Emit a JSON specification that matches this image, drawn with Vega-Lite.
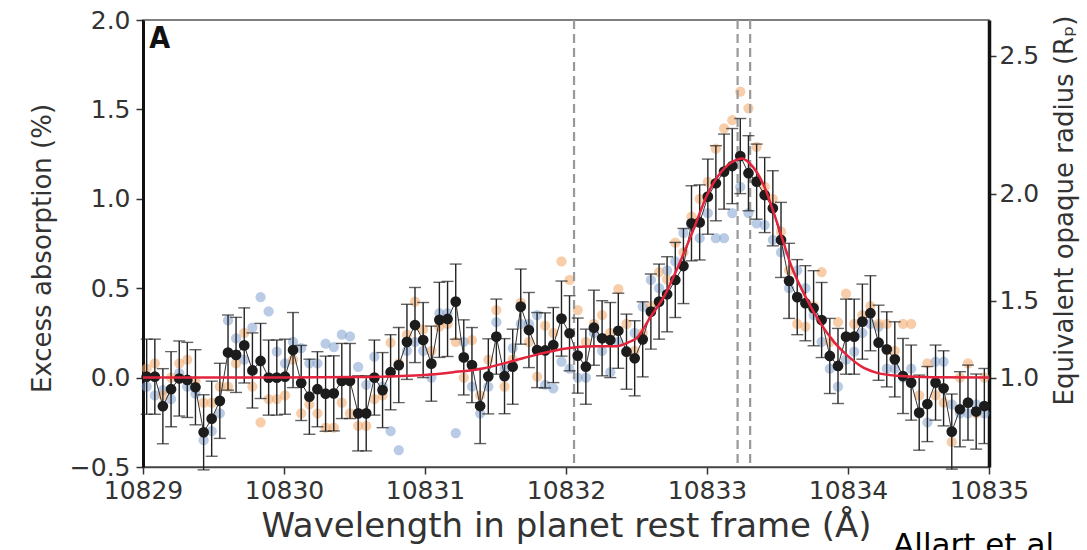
{
  "$schema": "https://vega.github.io/schema/vega-lite/v6.json",
  "autosize": "none",
  "width": 846,
  "height": 447,
  "padding": {"left": 143, "top": 20, "right": 98, "bottom": 83},
  "background": "white",
  "config": {
    "view": {"stroke": "#555", "strokeWidth": 1.5},
    "font": "DejaVu Sans",
    "axis": {"grid": false, "labelFont": "DejaVu Sans", "titleFont": "DejaVu Sans", "labelColor": "#333", "titleColor": "#333", "titleFontWeight": "normal"}
  },
  "datasets": {
    "pts": [
      {"w":10829.026,"v":0.005,"lo":-0.205,"hi":0.215,"o":0.05,"b":-0.05},
      {"w":10829.084,"v":0.005,"lo":-0.205,"hi":0.215,"o":0.08,"b":-0.1},
      {"w":10829.141,"v":-0.16,"lo":-0.37,"hi":0.05,"o":-0.1,"b":-0.07},
      {"w":10829.199,"v":-0.065,"lo":-0.275,"hi":0.145,"o":0.0,"b":-0.12},
      {"w":10829.257,"v":-0.005,"lo":-0.215,"hi":0.205,"o":0.08,"b":0.025},
      {"w":10829.314,"v":-0.013,"lo":-0.223,"hi":0.197,"o":0.1,"b":-0.05},
      {"w":10829.372,"v":-0.054,"lo":-0.264,"hi":0.156,"o":-0.02,"b":-0.09},
      {"w":10829.430,"v":-0.306,"lo":-0.516,"hi":-0.096,"o":-0.14,"b":-0.35},
      {"w":10829.487,"v":-0.23,"lo":-0.44,"hi":-0.02,"o":-0.14,"b":-0.3},
      {"w":10829.545,"v":-0.13,"lo":-0.34,"hi":0.08,"o":-0.05,"b":-0.2},
      {"w":10829.603,"v":0.14,"lo":-0.07,"hi":0.35,"o":-0.05,"b":0.32},
      {"w":10829.660,"v":0.127,"lo":-0.083,"hi":0.337,"o":0.08,"b":0.22},
      {"w":10829.718,"v":0.18,"lo":-0.03,"hi":0.39,"o":0.25,"b":0.1},
      {"w":10829.776,"v":0.04,"lo":-0.17,"hi":0.25,"o":-0.05,"b":0.28},
      {"w":10829.834,"v":0.093,"lo":-0.117,"hi":0.303,"o":-0.25,"b":0.45},
      {"w":10829.891,"v":0.0,"lo":-0.21,"hi":0.21,"o":-0.12,"b":0.37},
      {"w":10829.949,"v":0.0,"lo":-0.21,"hi":0.21,"o":-0.12,"b":0.145},
      {"w":10830.007,"v":0.005,"lo":-0.205,"hi":0.215,"o":-0.1,"b":0.08},
      {"w":10830.064,"v":0.154,"lo":-0.056,"hi":0.364,"o":0.1,"b":0.2},
      {"w":10830.122,"v":-0.03,"lo":-0.24,"hi":0.18,"o":-0.2,"b":0.165},
      {"w":10830.180,"v":-0.107,"lo":-0.317,"hi":0.103,"o":-0.15,"b":0.08},
      {"w":10830.237,"v":-0.065,"lo":-0.275,"hi":0.145,"o":-0.2,"b":0.08},
      {"w":10830.295,"v":-0.09,"lo":-0.3,"hi":0.12,"o":-0.28,"b":0.19},
      {"w":10830.353,"v":-0.088,"lo":-0.298,"hi":0.122,"o":-0.28,"b":0.17},
      {"w":10830.410,"v":-0.019,"lo":-0.229,"hi":0.191,"o":-0.14,"b":0.24},
      {"w":10830.468,"v":-0.019,"lo":-0.229,"hi":0.191,"o":-0.2,"b":0.23},
      {"w":10830.526,"v":-0.2,"lo":-0.41,"hi":0.01,"o":-0.27,"b":0.06},
      {"w":10830.583,"v":-0.2,"lo":-0.41,"hi":0.01,"o":-0.27,"b":-0.04},
      {"w":10830.641,"v":0.0,"lo":-0.21,"hi":0.21,"o":-0.12,"b":0.117},
      {"w":10830.699,"v":-0.07,"lo":-0.28,"hi":0.14,"o":-0.1,"b":-0.05},
      {"w":10830.756,"v":0.03,"lo":-0.18,"hi":0.24,"o":0.195,"b":-0.3},
      {"w":10830.814,"v":0.07,"lo":-0.14,"hi":0.28,"o":0.08,"b":-0.405},
      {"w":10830.872,"v":0.2,"lo":-0.01,"hi":0.41,"o":0.24,"b":0.15},
      {"w":10830.929,"v":0.294,"lo":0.084,"hi":0.504,"o":0.425,"b":0.2},
      {"w":10830.987,"v":0.21,"lo":0.0,"hi":0.42,"o":0.27,"b":0.15},
      {"w":10831.045,"v":0.078,"lo":-0.132,"hi":0.288,"o":0.15,"b":0.0},
      {"w":10831.102,"v":0.323,"lo":0.113,"hi":0.533,"o":0.285,"b":0.36},
      {"w":10831.160,"v":0.328,"lo":0.118,"hi":0.538,"o":0.3,"b":0.36},
      {"w":10831.218,"v":0.425,"lo":0.215,"hi":0.635,"o":0.2,"b":-0.31},
      {"w":10831.275,"v":0.113,"lo":-0.097,"hi":0.323,"o":0.0,"b":0.2},
      {"w":10831.333,"v":0.07,"lo":-0.14,"hi":0.28,"o":0.21,"b":-0.05},
      {"w":10831.391,"v":-0.159,"lo":-0.369,"hi":0.051,"o":-0.1,"b":-0.2},
      {"w":10831.449,"v":0.007,"lo":-0.203,"hi":0.217,"o":0.1,"b":-0.05},
      {"w":10831.506,"v":0.229,"lo":0.019,"hi":0.439,"o":0.378,"b":0.31},
      {"w":10831.564,"v":0.008,"lo":-0.202,"hi":0.218,"o":-0.05,"b":0.05},
      {"w":10831.622,"v":0.061,"lo":-0.149,"hi":0.271,"o":0.1,"b":0.165},
      {"w":10831.679,"v":0.397,"lo":0.187,"hi":0.607,"o":0.42,"b":0.3},
      {"w":10831.737,"v":0.266,"lo":0.056,"hi":0.476,"o":0.2,"b":0.3},
      {"w":10831.795,"v":0.154,"lo":-0.056,"hi":0.364,"o":0.005,"b":0.35},
      {"w":10831.852,"v":0.152,"lo":-0.058,"hi":0.362,"o":0.29,"b":-0.04},
      {"w":10831.910,"v":0.182,"lo":-0.028,"hi":0.392,"o":0.25,"b":-0.06},
      {"w":10831.968,"v":0.33,"lo":0.12,"hi":0.54,"o":0.65,"b":0.09},
      {"w":10832.025,"v":0.248,"lo":0.038,"hi":0.458,"o":0.546,"b":0.05},
      {"w":10832.083,"v":0.123,"lo":-0.087,"hi":0.333,"o":0.378,"b":0.0},
      {"w":10832.141,"v":0.061,"lo":-0.149,"hi":0.271,"o":0.2,"b":0.0},
      {"w":10832.198,"v":0.279,"lo":0.069,"hi":0.489,"o":0.3,"b":0.25},
      {"w":10832.256,"v":0.22,"lo":0.01,"hi":0.43,"o":0.35,"b":0.15},
      {"w":10832.314,"v":0.21,"lo":0.0,"hi":0.42,"o":0.25,"b":0.03},
      {"w":10832.371,"v":0.262,"lo":0.052,"hi":0.472,"o":0.495,"b":0.2},
      {"w":10832.429,"v":0.145,"lo":-0.065,"hi":0.355,"o":0.3,"b":0.15},
      {"w":10832.487,"v":0.108,"lo":-0.102,"hi":0.318,"o":0.15,"b":0.25},
      {"w":10832.544,"v":0.214,"lo":0.004,"hi":0.424,"o":0.25,"b":0.397},
      {"w":10832.602,"v":0.369,"lo":0.159,"hi":0.579,"o":0.4,"b":0.546},
      {"w":10832.660,"v":0.425,"lo":0.215,"hi":0.635,"o":0.59,"b":0.5},
      {"w":10832.717,"v":0.466,"lo":0.256,"hi":0.676,"o":0.55,"b":0.6},
      {"w":10832.775,"v":0.546,"lo":0.336,"hi":0.756,"o":0.755,"b":0.65},
      {"w":10832.833,"v":0.624,"lo":0.414,"hi":0.834,"o":0.7,"b":0.81},
      {"w":10832.890,"v":0.863,"lo":0.653,"hi":1.073,"o":0.9,"b":0.85},
      {"w":10832.948,"v":0.868,"lo":0.658,"hi":1.078,"o":1.0,"b":0.78},
      {"w":10833.006,"v":1.012,"lo":0.802,"hi":1.222,"o":1.095,"b":0.92},
      {"w":10833.063,"v":1.087,"lo":0.877,"hi":1.297,"o":1.28,"b":0.78},
      {"w":10833.121,"v":1.152,"lo":0.942,"hi":1.362,"o":1.394,"b":0.78},
      {"w":10833.179,"v":1.183,"lo":0.973,"hi":1.393,"o":1.44,"b":0.92},
      {"w":10833.236,"v":1.239,"lo":1.029,"hi":1.449,"o":1.6,"b":1.067},
      {"w":10833.294,"v":1.143,"lo":0.933,"hi":1.353,"o":1.506,"b":0.92},
      {"w":10833.352,"v":1.096,"lo":0.886,"hi":1.306,"o":1.29,"b":0.863},
      {"w":10833.409,"v":1.021,"lo":0.811,"hi":1.231,"o":1.067,"b":0.853},
      {"w":10833.467,"v":0.947,"lo":0.737,"hi":1.157,"o":1.0,"b":0.77},
      {"w":10833.525,"v":0.77,"lo":0.56,"hi":0.98,"o":0.816,"b":0.7},
      {"w":10833.582,"v":0.541,"lo":0.331,"hi":0.751,"o":0.6,"b":0.5},
      {"w":10833.640,"v":0.45,"lo":0.24,"hi":0.66,"o":0.3,"b":0.6},
      {"w":10833.698,"v":0.416,"lo":0.206,"hi":0.626,"o":0.285,"b":0.5},
      {"w":10833.756,"v":0.388,"lo":0.178,"hi":0.598,"o":0.4,"b":0.35},
      {"w":10833.813,"v":0.322,"lo":0.112,"hi":0.532,"o":0.59,"b":0.2},
      {"w":10833.871,"v":0.121,"lo":-0.089,"hi":0.331,"o":0.2,"b":0.05},
      {"w":10833.929,"v":0.065,"lo":-0.145,"hi":0.275,"o":0.31,"b":-0.05},
      {"w":10833.986,"v":0.229,"lo":0.019,"hi":0.439,"o":0.47,"b":0.1},
      {"w":10834.044,"v":0.229,"lo":0.019,"hi":0.439,"o":0.3,"b":0.145},
      {"w":10834.102,"v":0.313,"lo":0.103,"hi":0.523,"o":0.35,"b":0.25},
      {"w":10834.159,"v":0.36,"lo":0.15,"hi":0.57,"o":0.4,"b":0.3},
      {"w":10834.217,"v":0.195,"lo":-0.015,"hi":0.405,"o":0.3,"b":0.285},
      {"w":10834.275,"v":0.158,"lo":-0.052,"hi":0.368,"o":0.3,"b":0.05},
      {"w":10834.332,"v":0.102,"lo":-0.108,"hi":0.312,"o":0.15,"b":0.05},
      {"w":10834.390,"v":0.009,"lo":-0.201,"hi":0.219,"o":0.3,"b":0.0},
      {"w":10834.448,"v":-0.028,"lo":-0.238,"hi":0.182,"o":0.3,"b":0.05},
      {"w":10834.505,"v":-0.196,"lo":-0.406,"hi":0.014,"o":-0.1,"b":-0.2},
      {"w":10834.563,"v":-0.148,"lo":-0.358,"hi":0.062,"o":0.08,"b":-0.25},
      {"w":10834.621,"v":-0.028,"lo":-0.238,"hi":0.182,"o":-0.1,"b":0.09},
      {"w":10834.678,"v":-0.06,"lo":-0.27,"hi":0.15,"o":-0.14,"b":0.09},
      {"w":10834.736,"v":-0.302,"lo":-0.512,"hi":-0.092,"o":-0.36,"b":-0.15},
      {"w":10834.794,"v":-0.177,"lo":-0.387,"hi":0.033,"o":0.0,"b":-0.2},
      {"w":10834.851,"v":-0.14,"lo":-0.35,"hi":0.07,"o":0.08,"b":-0.2},
      {"w":10834.909,"v":-0.19,"lo":-0.4,"hi":0.02,"o":-0.2,"b":-0.15},
      {"w":10834.967,"v":-0.159,"lo":-0.369,"hi":0.051,"o":0.0,"b":-0.2}
    ],
    "model": [
      {"w":10829.0,"m":0},{"w":10829.5,"m":0},{"w":10830.0,"m":0},{"w":10830.5,"m":0.003},
      {"w":10830.8,"m":0.008},{"w":10831.0,"m":0.015},{"w":10831.2,"m":0.03},{"w":10831.4,"m":0.05},
      {"w":10831.6,"m":0.088},{"w":10831.8,"m":0.13},{"w":10832.0,"m":0.163},{"w":10832.2,"m":0.175},
      {"w":10832.35,"m":0.175},{"w":10832.45,"m":0.2},{"w":10832.5,"m":0.22},{"w":10832.6,"m":0.34},
      {"w":10832.7,"m":0.46},{"w":10832.8,"m":0.63},{"w":10832.9,"m":0.82},{"w":10833.0,"m":1.02},
      {"w":10833.1,"m":1.15},{"w":10833.2,"m":1.215},{"w":10833.25,"m":1.225},{"w":10833.3,"m":1.2},
      {"w":10833.4,"m":1.08},{"w":10833.5,"m":0.86},{"w":10833.6,"m":0.62},{"w":10833.7,"m":0.45},
      {"w":10833.8,"m":0.31},{"w":10833.9,"m":0.2},{"w":10834.0,"m":0.12},{"w":10834.1,"m":0.06},
      {"w":10834.2,"m":0.028},{"w":10834.35,"m":0.01},{"w":10834.6,"m":0.002},{"w":10835.0,"m":0}
    ],
    "lines": [{"w":10832.057},{"w":10833.217},{"w":10833.306}]
  },
  "layer": [
    {
      "layer": [
        {
          "data": {"name": "pts"},
          "mark": {"type": "circle", "size": 105, "color": "#7fa0d0", "opacity": 0.55},
          "encoding": {
            "x": {"field": "w", "type": "quantitative",
              "scale": {"domain": [10829, 10835], "nice": false, "zero": false},
              "axis": {"orient": "bottom", "values": [10829,10830,10831,10832,10833,10834,10835], "format": "d",
                "title": "Wavelength in planet rest frame (Å)", "labelFontSize": 25, "titleFontSize": 34,
                "domainColor": "#444", "domainWidth": 1.5, "tickColor": "#333", "tickWidth": 1.5, "tickSize": 7,
                "labelPadding": 4, "titlePadding": 6, "labelFlush": false}},
            "y": {"field": "b", "type": "quantitative", "title": "Excess absorption (%)",
              "scale": {"domain": [-0.5, 2.0], "nice": false, "zero": false},
              "axis": {"orient": "left", "values": [-0.5, 0, 0.5, 1.0, 1.5, 2.0], "format": ".1f",
                "title": "Excess absorption (%)", "labelFontSize": 25, "titleFontSize": 26, "titleY": 228,
                "domainColor": "#111", "domainWidth": 3, "tickColor": "#333", "tickWidth": 1.5, "tickSize": 7,
                "labelPadding": 6, "titlePadding": 14, "labelFlush": false}}
          }
        },
        {
          "data": {"name": "pts"},
          "mark": {"type": "circle", "size": 105, "color": "#f2a462", "opacity": 0.55},
          "encoding": {
            "x": {"field": "w", "type": "quantitative"},
            "y": {"field": "o", "type": "quantitative", "title": "Excess absorption (%)"}
          }
        },
        {
          "data": {"name": "lines"},
          "mark": {"type": "rule", "color": "#999", "strokeWidth": 2.2, "strokeDash": [9, 5]},
          "encoding": {"x": {"field": "w", "type": "quantitative"}}
        },
        {
          "data": {"name": "pts"},
          "mark": {"type": "errorbar", "color": "#222", "thickness": 1.4, "ticks": {"size": 12}},
          "encoding": {
            "x": {"field": "w", "type": "quantitative"},
            "y": {"field": "lo", "type": "quantitative", "title": "Excess absorption (%)"},
            "y2": {"field": "hi"}
          }
        },
        {
          "data": {"name": "pts"},
          "mark": {"type": "line", "color": "#333", "strokeWidth": 1},
          "encoding": {
            "x": {"field": "w", "type": "quantitative"},
            "y": {"field": "v", "type": "quantitative", "title": "Excess absorption (%)"}
          }
        },
        {
          "data": {"name": "pts"},
          "mark": {"type": "circle", "size": 115, "color": "#1c1c1c", "opacity": 1},
          "encoding": {
            "x": {"field": "w", "type": "quantitative"},
            "y": {"field": "v", "type": "quantitative", "title": "Excess absorption (%)"}
          }
        },
        {
          "data": {"values": [{}]},
          "mark": {"type": "text", "text": "A", "font": "DejaVu Sans Condensed", "fontWeight": "bold", "fontSize": 30, "align": "left", "baseline": "top", "color": "#111"},
          "encoding": {
            "x": {"datum": 10829.045},
            "y": {"datum": 1.975}
          }
        },
        {
          "data": {"values": [{}]},
          "mark": {"type": "text", "text": "Allart et al.", "font": "DejaVu Sans", "fontSize": 31, "align": "left", "baseline": "alphabetic", "color": "#000"},
          "encoding": {
            "x": {"datum": 10834.32},
            "y": {"datum": -0.99}
          }
        }
      ]
    },
    {
      "data": {"name": "model"},
      "mark": {"type": "line", "color": "#e3243c", "strokeWidth": 2.5, "interpolate": "monotone"},
      "encoding": {
        "x": {"field": "w", "type": "quantitative"},
        "y": {"field": "m", "type": "quantitative",
          "scale": {"domain": [-0.5, 2.0], "nice": false, "zero": false},
          "axis": {"orient": "right", "values": [0, 0.429, 1.029, 1.8],
            "labelExpr": "datum.value < 0.2 ? '1.0' : datum.value < 0.7 ? '1.5' : datum.value < 1.4 ? '2.0' : '2.5'",
            "title": "Equivalent opaque radius (Rₚ)", "titleAngle": 270, "titleBaseline": "top", "titleY": 190, "labelFontSize": 25, "titleFontSize": 26,
            "domainColor": "#111", "domainWidth": 3.5, "tickColor": "#333", "tickWidth": 1.5, "tickSize": 7,
            "labelPadding": 3, "titlePadding": 13, "labelFlush": false}}
      }
    }
  ],
  "resolve": {"scale": {"y": "independent"}}
}
